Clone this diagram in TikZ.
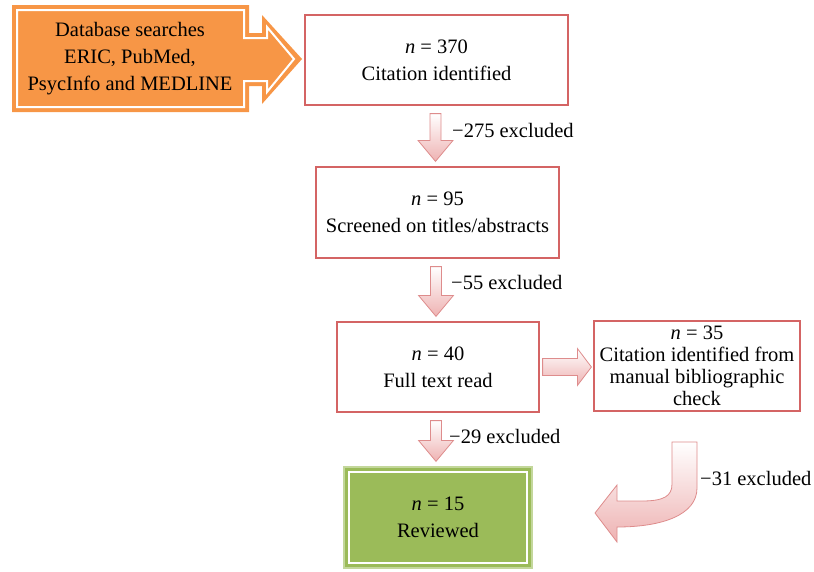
\documentclass[tikz,border=0pt]{standalone}
\usepackage{fontspec}
\setmainfont{Liberation Serif}
\usetikzlibrary{calc}

\definecolor{boxred}{RGB}{212,100,100}
\definecolor{arrowpink}{RGB}{238,178,178}
\definecolor{arrowline}{RGB}{222,140,140}
\definecolor{dborange}{RGB}{247,150,70}
\definecolor{revgreen}{RGB}{155,187,89}
\definecolor{revedge}{RGB}{195,215,155}

\tikzset{
  stage/.style={draw=boxred, line width=1.2pt, align=center, inner sep=0pt,
    font=\fontsize{20.5}{27}\selectfont},
  blockarrow/.style={draw=arrowline, line width=0.8pt, top color=white, bottom color=arrowpink},
  excl/.style={anchor=base west, inner sep=0pt, font=\fontsize{20.5}{27}\selectfont},
}

\begin{document}
\begin{tikzpicture}[x=1pt, y=-1pt]

  \useasboundingbox (0,0) rectangle (814,571);

  \newcommand\blockdown[2]{%
    \path (#2.north |- #1.south) ++(-2,8) coordinate (top);
    \path (#2.north) ++(-2,-5) coordinate (tip);
    \draw[blockarrow] ($(top)+(-5.5,0)$) -- ($(top)+(5.5,0)$) -- ($(tip)+(5.5,-21)$)
      -- ($(tip)+(17.5,-21)$) -- (tip) -- ($(tip)+(-17.5,-21)$) -- ($(tip)+(-5.5,-21)$) -- cycle;}

  %% database callout
  \fill[dborange] (12,5) -- (249,5) -- (249,33) -- (262,33) -- (262,15) -- (302,59)
    -- (262,104) -- (262,86) -- (249,86) -- (249,112) -- (12,112) -- cycle;
  \draw[white, line width=2pt] (17,10) -- (244,10) -- (244,38) -- (267,38) -- (267,27) -- (294,59)
    -- (267,92) -- (267,81) -- (244,81) -- (244,107) -- (17,107) -- cycle;
  \node[align=center, inner sep=0pt, font=\fontsize{20.5}{27}\selectfont] (db) at (130,59)
    {Database searches\\ERIC, PubMed,\\PsycInfo and MEDLINE};

  \node[stage, minimum width=263pt, minimum height=90pt] (cite) at (436.5,60)
    {\textit{n} = 370\\Citation identified};
  \node[stage, minimum width=243pt, minimum height=91pt] (screen) at (437.5,212.5)
    {\textit{n} = 95\\Screened on titles/abstracts};
  \node[stage, minimum width=202pt, minimum height=90pt] (full) at (438,367)
    {\textit{n} = 40\\Full text read};
  \node[stage, minimum width=206pt, minimum height=90pt, font=\fontsize{20.5}{22}\selectfont] (manual) at (697,366)
    {\textit{n} = 35\\Citation identified from\\manual bibliographic\\check};
  \node[stage, draw=revedge, fill=revgreen, minimum width=188pt, minimum height=101pt] (reviewed) at (438,517.5)
    {\textit{n} = 15\\Reviewed};
  \draw[white, line width=2pt] ($(reviewed.north west)+(6,6)$) rectangle ($(reviewed.south east)+(-6,-6)$);

  \blockdown{cite}{screen}    %% 370 -> 95
  \blockdown{screen}{full}    %% 95 -> 40
  \blockdown{full}{reviewed}  %% 40 -> 15

  %% full text -> manual check
  \coordinate (rs) at ($(full.east)+(3,0)$);
  \coordinate (rt) at ($(manual.west |- full.east)+(-2,0)$);
  \draw[blockarrow] ($(rs)+(0,-8.5)$) -- ($(rt)+(-14,-8.5)$) -- ($(rt)+(-14,-18.5)$) -- (rt)
    -- ($(rt)+(-14,18.5)$) -- ($(rt)+(-14,8.5)$) -- ($(rs)+(0,8.5)$) -- cycle;

  %% manual check -> reviewed
  \draw[blockarrow] (672,442) -- (697,442) -- (697,488) .. controls (697,515) and (662,527) .. (617,527)
    -- (617,542) -- (595,513) -- (617,485) -- (617,501) -- (642,501)
    .. controls (664,501) and (672,496) .. (672,484) -- cycle;

  \node[excl] (ex275) at (452,137) {−275 excluded};
  \node[excl] (ex55) at (451,289) {−55 excluded};
  \node[excl] (ex29) at (449,443) {−29 excluded};
  \node[excl] (ex31) at (700,485) {−31 excluded};

\end{tikzpicture}
\end{document}
